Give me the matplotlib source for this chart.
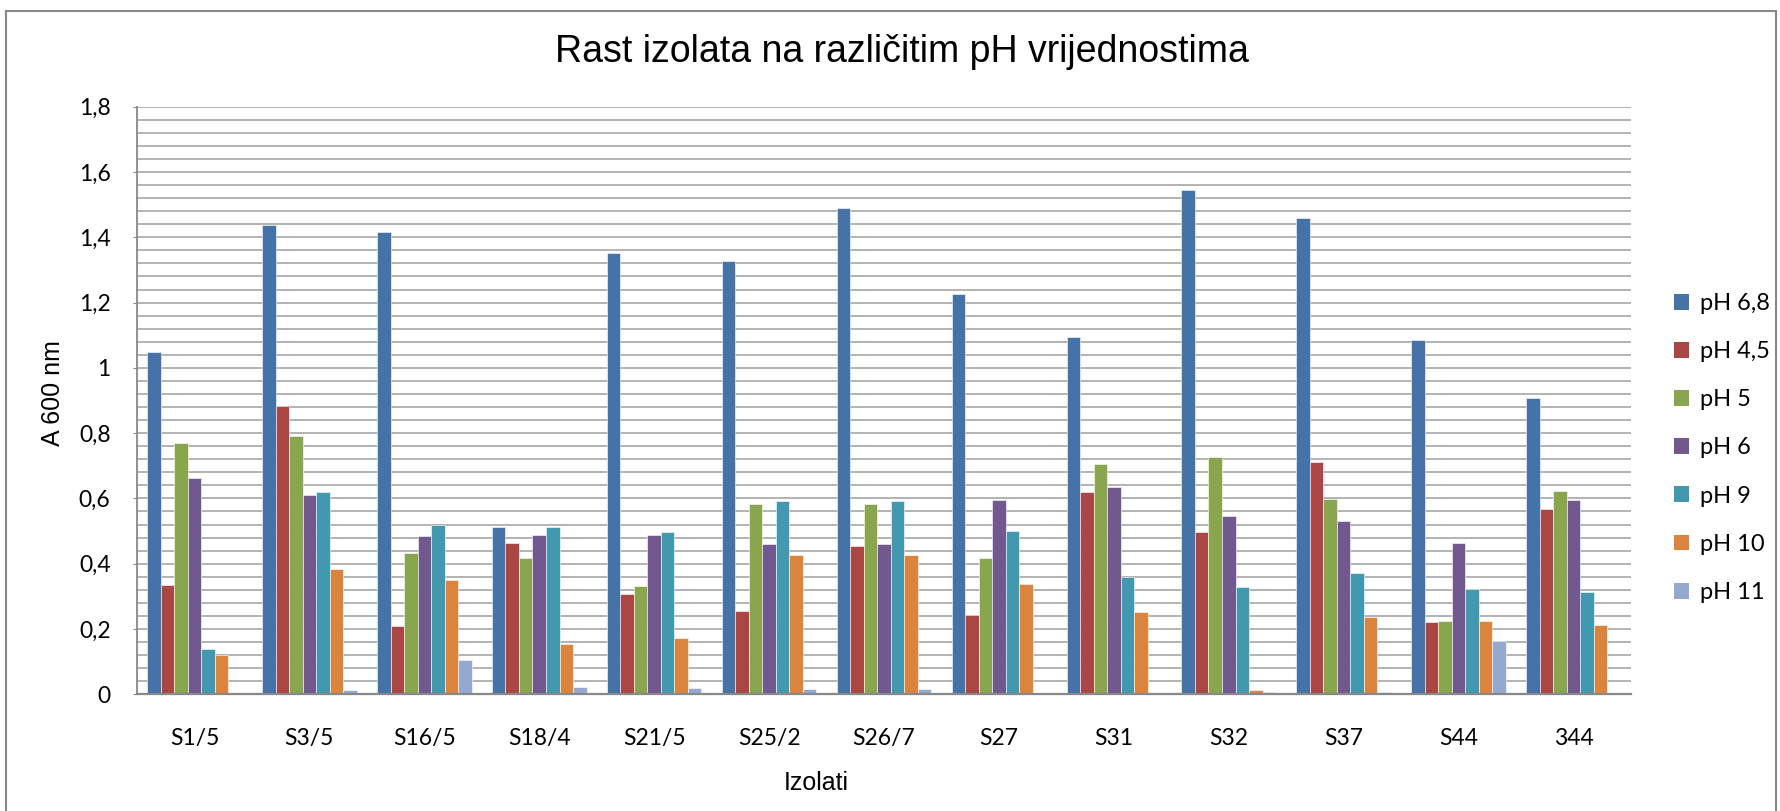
import numpy as np
import matplotlib
matplotlib.use("Agg")
import matplotlib.pyplot as plt
from matplotlib.patches import Rectangle

# Isolates and absorbance readings (A 600 nm) at each pH
isolates = ["S1/5", "S3/5", "S16/5", "S18/4", "S21/5", "S25/2", "S26/7",
            "S27", "S31", "S32", "S37", "S44", "344"]
series_names = ["pH 6,8", "pH 4,5", "pH 5", "pH 6", "pH 9", "pH 10", "pH 11"]
y_tick_labels = ["0", "0,2", "0,4", "0,6", "0,8", "1", "1,2", "1,4", "1,6", "1,8"]

ph_6_8 = [1.049, 1.437, 1.417, 0.511, 1.353, 1.326, 1.489, 1.227, 1.094, 1.545, 1.458, 1.085, 0.909]
ph_4_5 = [0.336, 0.882, 0.208, 0.464, 0.306, 0.254, 0.453, 0.243, 0.620, 0.497, 0.713, 0.220, 0.569]
ph_5 = [0.771, 0.792, 0.433, 0.417, 0.332, 0.584, 0.584, 0.418, 0.706, 0.728, 0.598, 0.225, 0.622]
ph_6 = [0.663, 0.612, 0.486, 0.489, 0.489, 0.459, 0.459, 0.596, 0.634, 0.545, 0.532, 0.465, 0.595]
ph_9 = [0.139, 0.619, 0.520, 0.513, 0.496, 0.591, 0.591, 0.500, 0.358, 0.330, 0.373, 0.324, 0.312]
ph_10 = [0.119, 0.383, 0.351, 0.155, 0.172, 0.426, 0.426, 0.339, 0.252, 0.013, 0.237, 0.226, 0.212]
ph_11 = [0.005, 0.014, 0.105, 0.023, 0.018, 0.017, 0.017, 0.0, 0.0, 0.006, 0.007, 0.162, 0.0]

series = [ph_6_8, ph_4_5, ph_5, ph_6, ph_9, ph_10, ph_11]
colors = ["#4572A7", "#AA4643", "#89A54E", "#71588F", "#4198AF", "#DB843D", "#93A9CF"]

W, H = 1780, 811
fig = plt.figure(figsize=(W / 100, H / 100), dpi=100)
fig.patch.set_facecolor("white")

# chart frame
fig.patches.append(Rectangle((5.7 / W, -0.05), (1776 - 5.7) / W, 1.05 - 10.7 / H,
                             transform=fig.transFigure, fill=False,
                             edgecolor="#888888", linewidth=1.5))

left, right, top, bottom = 137, 1631, 106.7, 694.3
ax = fig.add_axes([left / W, 1 - bottom / H, (right - left) / W, (bottom - top) / H])

x = np.arange(len(isolates))
bw = 1 / 8.5
for i, (vals, name, c) in enumerate(zip(series, series_names, colors)):
    ax.bar(x + (i - 3) * bw, vals, width=bw, color=c, label=name,
           edgecolor="white", linewidth=0.4, zorder=3)

ax.set_xlim(-0.5, len(isolates) - 0.5)
ax.set_ylim(0, 1.8)

# gridlines every 0.04
for yv in np.arange(0.04, 1.8001, 0.04):
    ax.axhline(yv, color="#ADADAD", linewidth=1.3, zorder=1)

ax.set_yticks(np.linspace(0, 1.8, len(y_tick_labels)))
ax.set_yticklabels(y_tick_labels)
ax.set_xticks(x)
ax.set_xticklabels(isolates)

for lab in ax.get_yticklabels() + ax.get_xticklabels():
    lab.set_fontfamily("Lato")
    lab.set_fontsize(16.5)

ax.tick_params(axis="y", length=3, color="#888888", pad=16)
ax.tick_params(axis="x", length=0, pad=24)

for s in ["top", "right"]:
    ax.spines[s].set_visible(False)
ax.spines["left"].set_color("#888888")
ax.spines["left"].set_linewidth(1.3)
ax.spines["bottom"].set_color("#888888")
ax.spines["bottom"].set_linewidth(1.6)
ax.spines["bottom"].set_zorder(4)

# titles
fig.text(902 / W, 1 - 52 / H, "Rast izolata na različitim pH vrijednostima",
         ha="center", va="center", fontsize=27, family="Liberation Sans")
fig.text(53 / W, 1 - 393 / H, "A 600 nm", rotation=90, ha="center", va="center",
         fontsize=18, family="Liberation Sans")
fig.text(816 / W, 1 - 783 / H, "Izolati", ha="center", va="center",
         fontsize=18, family="Liberation Sans")

# legend
leg = ax.legend(loc="upper left", bbox_to_anchor=(1674 / W, 1 - 293 / H),
                bbox_transform=fig.transFigure, frameon=False,
                prop=dict(family="Lato", size=17), handlelength=0.65,
                handleheight=0.65, handletextpad=0.45, labelspacing=1.15,
                borderaxespad=0, borderpad=0)
for h in leg.legend_handles:
    h.set_edgecolor("none")

fig.savefig("out.png", dpi=100, facecolor="white")
